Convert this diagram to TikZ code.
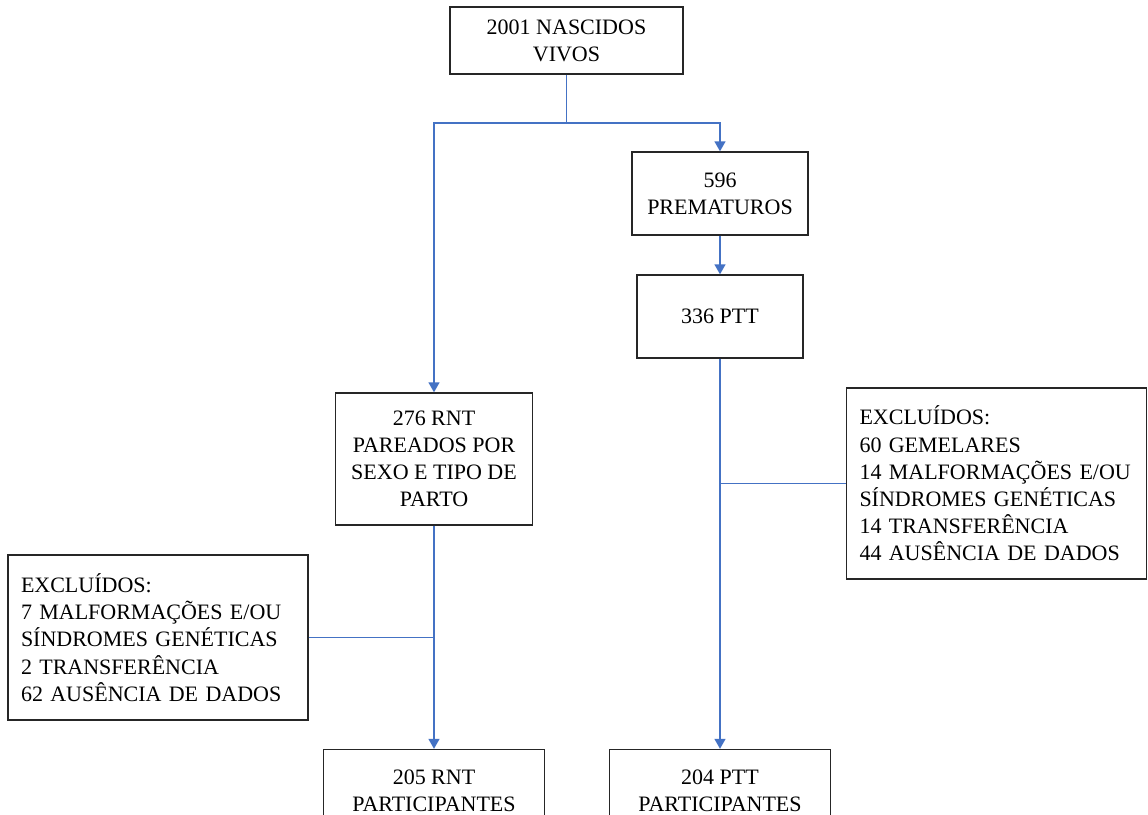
\documentclass[tikz,border=0pt]{standalone}
\usepackage{fontspec}
\setmainfont{Liberation Serif}
\usepackage{xcolor}
\usetikzlibrary{arrows.meta,positioning}

\definecolor{linkblue}{HTML}{4472C4}

\tikzset{
  box/.style={draw=black!85, line width=0.7pt, align=center, inner sep=2pt,
    font=\fontsize{11}{13.6}\selectfont},
  exclbox/.style={box, align=left, inner xsep=6.5pt, text width=137pt},
  link/.style={draw=linkblue, line width=0.75pt},
  arr/.style={link, -{Triangle[width=5.5pt,length=5pt]}},
}

\begin{document}
\begin{tikzpicture}[x=0.5pt, y=-0.5pt]
    \useasboundingbox (0,0) rectangle (1148,815);

    % boxes
    \node[box, minimum width=116.5pt, minimum height=33.5pt] (nascidos) at (566.5,40.5) {2001 NASCIDOS\\VIVOS};
    \node[box, minimum width=88pt, minimum height=41.5pt] (prematuros) at (720,193.5) {596\\PREMATUROS};
    \node[box, minimum width=83pt, minimum height=41.5pt] (ptt) at (720,316.5) {336 PTT};
    \node[box, minimum width=98.5pt, minimum height=66pt] (rnt) at (434,459) {276 RNT\\PAREADOS POR\\SEXO E TIPO DE\\PARTO};
    \node[exclbox, minimum height=82.5pt] (exclrnt) at (158,637.5)
      {EXCLUÍDOS:\\7 MALFORMAÇÕES E/OU\\SÍNDROMES GENÉTICAS\\2 TRANSFERÊNCIA\\62 AUSÊNCIA DE DADOS};
    \node[exclbox, minimum height=95.5pt] (exclptt) at (996.5,483.5)
      {EXCLUÍDOS:\\60 GEMELARES\\14 MALFORMAÇÕES E/OU\\SÍNDROMES GENÉTICAS\\14 TRANSFERÊNCIA\\44 AUSÊNCIA DE DADOS};
    \node[box, minimum width=110.5pt, minimum height=41.5pt] (rntfim) at (434,791) {205 RNT\\PARTICIPANTES};
    \node[box, minimum width=110.5pt, minimum height=41.5pt] (pttfim) at (720,791) {204 PTT\\PARTICIPANTES};

    % connectors
    \coordinate (split) at (566.5,123);
    \draw[link] (nascidos.south) -- (split);
    \draw[arr] (split) -| (rnt.north);
    \draw[arr] (split) -| (prematuros.north);
    \draw[arr] (prematuros) -- (ptt);
    \draw[arr] (ptt) -- (pttfim);
    \draw[arr] (rnt) -- (rntfim);
    \draw[link] (exclptt.west) -- (exclptt.west -| ptt.south);
    \draw[link] (exclrnt.east) -- (exclrnt.east -| rnt.south);
\end{tikzpicture}
\end{document}
